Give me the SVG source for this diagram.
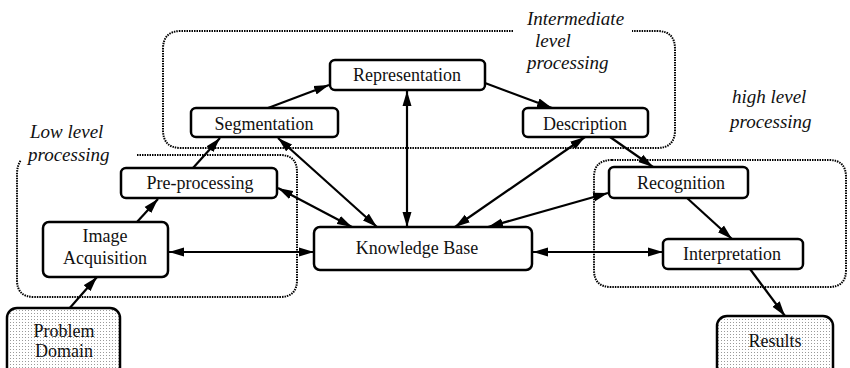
<svg xmlns="http://www.w3.org/2000/svg" width="850" height="368" viewBox="0 0 850 368">
<style>
.node{fill:#fff;stroke:#000;stroke-width:2.5}
.shaded{fill:url(#stipple);stroke:#000;stroke-width:2.5}
.t{font-family:"Liberation Serif","Times New Roman",serif;font-size:18px;fill:#111;text-anchor:middle}
.lbl{font-family:"Liberation Serif","Times New Roman",serif;font-size:19px;font-style:italic;fill:#111}
.grp{fill:none;stroke:#000;stroke-width:2;stroke-dasharray:1.5 1}
.c{fill:none;stroke:#000;stroke-width:2.2}
.one{marker-end:url(#ah)}
.two{marker-end:url(#ah);marker-start:url(#ah)}
</style>
<defs>
<marker id="ah" markerUnits="userSpaceOnUse" markerWidth="16" markerHeight="10" refX="15" refY="4.5" orient="auto-start-reverse" viewBox="0 0 16 9">
<path d="M0,0 L15,4.5 L0,9 z" fill="#000"/>
</marker>
<pattern id="stipple" width="3" height="3" patternUnits="userSpaceOnUse">
<rect width="3" height="3" fill="#fff"/>
<rect x="1" y="1" width="1" height="1" fill="#9a9a9a"/>
</pattern>
</defs>
<rect width="850" height="368" fill="#fff"/>

<g id="groups">
<path class="grp" d="M513,31 H181 Q163,31 163,49 V130 Q163,148 181,148 H657 Q675,148 675,130 V49 Q675,31 657,31 H632"/>
<path class="grp" d="M137,155 H280 Q297,155 297,172 V280 Q297,297 280,297 H34 Q17,297 17,280 V174 Q17,166 21,160"/>
<path class="grp" d="M612,160 H829 Q846,160 846,177 V270 Q846,287 829,287 H611 Q594,287 594,270 V177 Q594,160 612,160 Z"/>
<text class="lbl" x="527" y="25">Intermediate</text>
<text class="lbl" x="535" y="47">level</text>
<text class="lbl" x="527" y="69">processing</text>
<text class="lbl" x="732" y="103">high level</text>
<text class="lbl" x="730" y="128">processing</text>
<text class="lbl" x="30" y="138">Low level</text>
<text class="lbl" x="28" y="161">processing</text>
</g>

<g id="connectors">
<line class="c one" x1="68" y1="310" x2="97" y2="277"/>
<line class="c one" x1="137" y1="222" x2="158" y2="199"/>
<line class="c one" x1="193" y1="168" x2="220" y2="138"/>
<line class="c one" x1="268" y1="108" x2="329" y2="85"/>
<line class="c one" x1="485" y1="83" x2="552" y2="108"/>
<line class="c one" x1="610" y1="137" x2="653" y2="167"/>
<line class="c one" x1="687" y1="198" x2="732" y2="239"/>
<line class="c one" x1="750" y1="269" x2="785" y2="316"/>
<line class="c two" x1="407" y1="91" x2="407" y2="227"/>
<line class="c two" x1="278" y1="138" x2="377" y2="227"/>
<line class="c two" x1="278" y1="188" x2="352" y2="227"/>
<line class="c two" x1="169" y1="252" x2="314" y2="252"/>
<line class="c two" x1="585" y1="137" x2="455" y2="227"/>
<line class="c two" x1="608" y1="193" x2="488" y2="227"/>
<line class="c two" x1="533" y1="252" x2="663" y2="252"/>
</g>

<g id="representation"><rect class="node" x="330" y="60" width="155" height="30" rx="5"/><text class="t" x="407" y="81">Representation</text></g>
<g id="segmentation"><rect class="node" x="191" y="108" width="147" height="29" rx="5"/><text class="t" x="264" y="130">Segmentation</text></g>
<g id="description"><rect class="node" x="523" y="108" width="125" height="29" rx="5"/><text class="t" x="585" y="130">Description</text></g>
<g id="preprocessing"><rect class="node" x="121" y="168" width="156" height="30" rx="5"/><text class="t" x="200" y="189">Pre-processing</text></g>
<g id="recognition"><rect class="node" x="609" y="167" width="139" height="31" rx="5"/><text class="t" x="681" y="189">Recognition</text></g>
<g id="image-acquisition"><rect class="node" x="43" y="222" width="125" height="55" rx="6"/><text class="t" x="105" y="242">Image</text><text class="t" x="105" y="264">Acquisition</text></g>
<g id="knowledge-base"><rect class="node" x="314" y="227" width="218" height="43" rx="6"/><text class="t" x="417" y="254">Knowledge Base</text></g>
<g id="interpretation"><rect class="node" x="663" y="239" width="140" height="30" rx="5"/><text class="t" x="732" y="260">Interpretation</text></g>
<g id="problem-domain"><rect class="shaded" x="7" y="308" width="113" height="70" rx="10"/><text class="t" x="64" y="337">Problem</text><text class="t" x="64" y="357">Domain</text></g>
<g id="results"><rect class="shaded" x="717" y="316" width="116" height="62" rx="10"/><text class="t" x="775" y="347">Results</text></g>
</svg>
